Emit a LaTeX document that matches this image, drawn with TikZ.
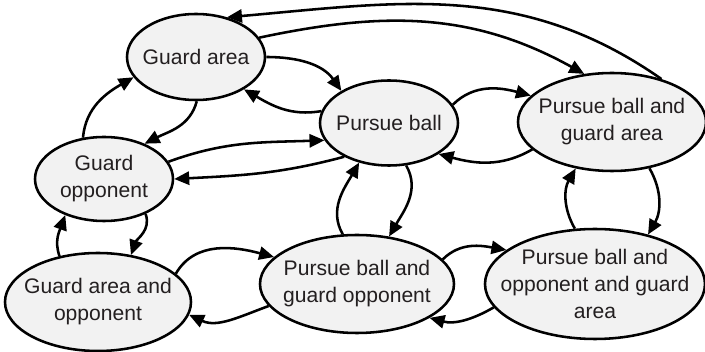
\documentclass[tikz,border=0pt]{standalone}
\usepackage{fontspec}
\setmainfont{Liberation Sans}
\usepackage{xcolor}
\usetikzlibrary{
    shapes.geometric,
    arrows.meta
}
\definecolor{statefill}{HTML}{F2F2F2}
\definecolor{inkgray}{HTML}{231F20}

\begin{document}
\begin{tikzpicture}[
    statenode/.style={
        ellipse,
        draw=black,
        fill=statefill,
        line width=1.45pt,
        text=inkgray,
        align=center,
        inner xsep=-12pt,
        inner ysep=-4pt,
        font=\fontsize{12}{15.4}\selectfont
    },
    arrow/.style={-{Triangle[length=8.5pt,width=7.5pt]}, line width=1.45pt}
]
\useasboundingbox (0,0) rectangle (14.1,7.04);

% States
\node[statenode, minimum width=2.76cm, minimum height=1.72cm] (ga) at (3.92,5.90) {Guard area};
\node[statenode, minimum width=2.76cm, minimum height=1.70cm] (pb) at (7.78,4.58) {Pursue ball};
\node[statenode, minimum width=3.76cm, minimum height=1.96cm] (pbga) at (12.24,4.60) {Pursue ball and\\guard area};
\node[statenode, minimum width=2.76cm, minimum height=1.68cm] (go) at (2.08,3.46) {Guard\\opponent};
\node[statenode, minimum width=3.72cm, minimum height=1.96cm] (gao) at (1.96,1.00) {Guard area and\\opponent};
\node[statenode, minimum width=3.88cm, minimum height=1.96cm] (pbgo) at (7.14,1.36) {Pursue ball and\\guard opponent};
\node[statenode, minimum width=4.40cm, minimum height=2.20cm] (pboga) at (11.90,1.36) {Pursue ball and\\opponent and guard\\area};

% Transitions, top row
\draw[arrow] (ga.0) to[out=0,in=125] (pb.146);
\draw[arrow] (pb.170) to[out=190,in=-30] (ga.-34);
\draw[arrow] (pbga.41) to[out=145,in=5] (ga.52);
\draw[arrow] (ga.17) to[out=12,in=151] (pbga.120);
\draw[arrow] (pb.16) to[out=45,in=165] (pbga.162);
\draw[arrow] (pbga.199) to[out=210,in=-15] (pb.-32);

% Transitions, left side
\draw[arrow] (go.117) to[out=85,in=210] (ga.198);
\draw[arrow] (ga.-89) to[out=-105,in=27] (go.41);
\draw[arrow] (go.15) to[out=20,in=182] (pb.195);
\draw[arrow] (pb.217) to[out=195,in=3] (go.0);
\draw[arrow] (gao.130) to[out=110,in=250] (go.223);
\draw[arrow] (go.-40) to[out=-70,in=70] (gao.55);

% Transitions, bottom row
\draw[arrow] (pbgo.106) to[out=120,in=240] (pb.233);
\draw[arrow] (pb.-68) to[out=-60,in=60] (pbgo.56);
\draw[arrow] (gao.20) to[out=60,in=165] (pbgo.162);
\draw[arrow] (pbgo.194) to[out=200,in=-25] (gao.-8);
\draw[arrow] (pbgo.16) to[out=45,in=170] (pboga.159);
\draw[arrow] (pboga.193) to[out=210,in=-15] (pbgo.-25);
\draw[arrow] (pboga.110) to[out=120,in=240] (pbga.232);
\draw[arrow] (pbga.-51) to[out=-60,in=60] (pboga.43);

\end{tikzpicture}
\end{document}
